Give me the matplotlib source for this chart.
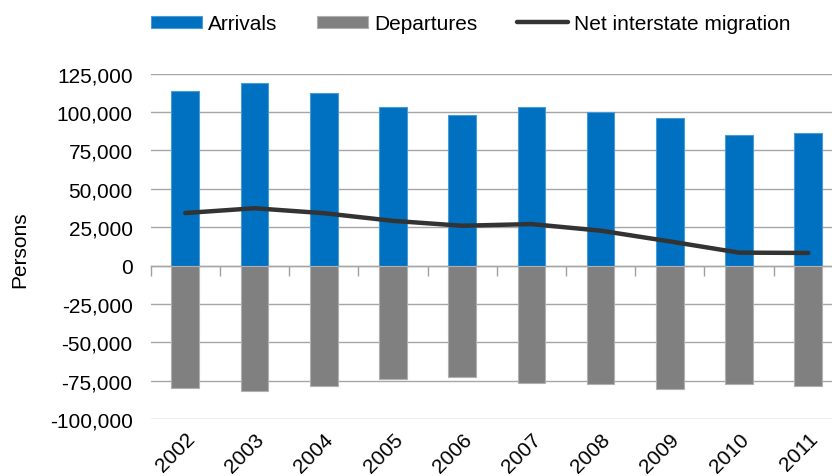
import matplotlib
matplotlib.use("Agg")
import matplotlib.pyplot as plt
import numpy as np

years = ["2002", "2003", "2004", "2005", "2006", "2007", "2008", "2009", "2010", "2011"]
arrivals = [113900, 118900, 112200, 103100, 98300, 103500, 100000, 96100, 85300, 86400]
departures = [-79800, -81600, -78100, -73600, -72500, -76400, -77200, -80100, -77200, -78100]
net_migration = [34300, 37400, 34200, 29200, 26000, 27100, 22800, 15800, 8500, 8300]
y_ticks = [-100000, -75000, -50000, -25000, 0, 25000, 50000, 75000, 100000, 125000]

plt.rcParams["font.family"] = ["Liberation Sans", "DejaVu Sans"]
FS = 15

fig = plt.figure(figsize=(8.32, 4.77), dpi=100)
ax = fig.add_axes([0.1811, 0.1189, 0.8320, 0.7245])

x = np.arange(len(years))
w = 0.40
b1 = ax.bar(x, arrivals, width=w, color="#0070C0", edgecolor="#4A9AD6", linewidth=0.8,
            label="Arrivals", zorder=3)
b2 = ax.bar(x, departures, width=w, color="#808080", edgecolor="#B0B0B0", linewidth=0.8,
            label="Departures", zorder=3)
ln, = ax.plot(x, net_migration, color="#333333", linewidth=3.2, solid_capstyle="round",
              solid_joinstyle="round", label="Net interstate migration", zorder=4)

ax.set_xlim(-0.5, len(years) - 0.5)
ax.set_ylim(-100000, 125000)
ax.set_yticks(y_ticks)
ax.set_yticklabels([f"{v:,}" for v in y_ticks], fontsize=FS)
ax.grid(axis="y", color="#A6A6A6", linewidth=1.0, zorder=0)
ax.set_axisbelow(True)
for s in ax.spines.values():
    s.set_visible(False)
ax.tick_params(axis="y", length=0, pad=13)

# year labels along the bottom
ax.set_xticks(x)
ax.set_xticklabels(years, fontsize=FS, rotation=45, ha="right", rotation_mode="anchor")
ax.tick_params(axis="x", length=0, pad=7)

# category axis with boundary tick marks at zero
zero_pos = (0 - (-100000)) / 225000
sec = ax.secondary_xaxis(zero_pos)
sec.set_xticks(np.arange(len(years) + 1) - 0.5)
sec.set_xticklabels([])
sec.tick_params(axis="x", direction="out", length=7, width=1.0, color="#A0A0A0")
sec.spines["bottom"].set_color("#A0A0A0")
sec.spines["bottom"].set_linewidth(1.0)

ax.set_ylabel("Persons", fontsize=FS)
ax.yaxis.set_label_coords(-0.176, 0.493)

fig.legend([b1, b2, ln], ["Arrivals", "Departures", "Net interstate migration"],
           loc="center", bbox_to_anchor=(0.566, 0.948), ncol=3, frameon=False,
           fontsize=FS, handlelength=2.45, handleheight=0.55, handletextpad=0.28,
           columnspacing=1.9)

fig.savefig("out.png", dpi=100)
